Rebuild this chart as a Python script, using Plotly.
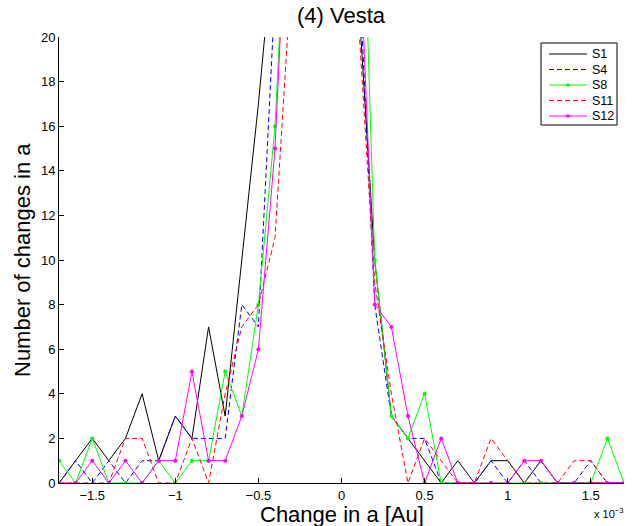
import plotly.graph_objects as go

# Bin centres of the change in semi-major axis, in units of 1e-3 AU
delta_a = [-1.7, -1.6, -1.5, -1.4, -1.3, -1.2, -1.1, -1.0, -0.9, -0.8,
           -0.7, -0.6, -0.5, -0.4, -0.3, -0.2, -0.1, 0.0, 0.1, 0.2,
           0.3, 0.4, 0.5, 0.6, 0.7, 0.8, 0.9, 1.0, 1.1, 1.2,
           1.3, 1.4, 1.5, 1.6, 1.7]

# Number of changes per bin for each simulation
s1 = [0, 1, 2, 1, 2, 4, 1, 3, 2, 7, 3, 10, 17, 25, 60, 140, 310, 320, 22, 10,
      3, 2, 1, 0, 1, 0, 1, 1, 0, 1, 0, 0, 0, 0, 0]
s4 = [0, 1, 0, 1, 0, 1, 1, 3, 2, 2, 2, 8, 7, 22, 45, 150, 300, 310, 24, 8,
      3, 2, 2, 0, 0, 0, 1, 0, 1, 0, 0, 0, 1, 0, 0]
s8 = [1, 0, 2, 0, 0, 0, 1, 0, 1, 1, 5, 3, 8, 16, 31, 130, 290, 300, 34, 10,
      3, 2, 4, 0, 0, 0, 0, 0, 0, 0, 0, 0, 0, 2, 0]
s11 = [0, 0, 0, 0, 2, 2, 0, 0, 2, 0, 4, 7, 8, 11, 23, 120, 280, 290, 21, 9,
       4, 0, 2, 1, 0, 0, 2, 1, 0, 0, 0, 1, 1, 0, 0]
s12 = [0, 0, 1, 0, 1, 0, 1, 1, 5, 1, 1, 3, 6, 15, 31, 125, 285, 295, 26, 8,
       7, 3, 0, 2, 0, 0, 0, 0, 1, 1, 0, 0, 0, 0, 0]

series_names = ["S1", "S4", "S8", "S11", "S12"]
series_counts = [s1, s4, s8, s11, s12]
series_colors = ["#000000", "#0000ff", "#00ff00", "#ff0000", "#ff00ff"]
series_dashes = ["solid", "5px,3px", "solid", "5px,3px", "solid"]
series_dots = [False, False, True, False, True]

W, H = 642, 526
ML, MR, MT, MB = 59, 18, 37, 43
PW, PH = W - ML - MR, H - MT - MB

def paper_x(px):
    return (px - ML) / PW

def paper_y(py):
    return (H - MB - py) / PH

fig = go.Figure()
for name, counts, color, dash, dots in zip(series_names, series_counts,
                                          series_colors, series_dashes,
                                          series_dots):
    fig.add_trace(go.Scatter(
        x=delta_a, y=counts, name=name,
        mode="lines+markers" if dots else "lines",
        line=dict(color=color, width=1, dash=dash),
        marker=dict(color=color, size=4, symbol="circle"),
        showlegend=False,
    ))

font_family = "Liberation Sans, Arial, Helvetica, sans-serif"

# Compact boxed legend in the upper-right corner
shapes = []
annotations = []
box_x0, box_x1, box_y0, box_y1 = 541, 617, 43, 125
shapes.append(dict(type="rect", xref="paper", yref="paper",
                   x0=paper_x(box_x0), x1=paper_x(box_x1),
                   y0=paper_y(box_y1), y1=paper_y(box_y0),
                   line=dict(color="black", width=1), fillcolor="white",
                   layer="above"))
row_step = 15.5
for i, (name, color, dash, dots) in enumerate(zip(series_names, series_colors,
                                                  series_dashes, series_dots)):
    cy = 54 + i * row_step
    shapes.append(dict(type="line", xref="paper", yref="paper",
                       x0=paper_x(549), x1=paper_x(587),
                       y0=paper_y(cy), y1=paper_y(cy),
                       line=dict(color=color, width=1, dash=dash),
                       layer="above"))
    if dots:
        shapes.append(dict(type="circle", xref="paper", yref="paper",
                           x0=paper_x(566.5), x1=paper_x(569.5),
                           y0=paper_y(cy + 1.5), y1=paper_y(cy - 1.5),
                           line=dict(color=color, width=0.5),
                           fillcolor=color, layer="above"))
    annotations.append(dict(text=name, xref="paper", yref="paper",
                            x=paper_x(590), y=paper_y(cy),
                            xanchor="left", yanchor="middle",
                            showarrow=False, font=dict(size=12.5)))

annotations += [
    dict(text="(4) Vesta", xref="paper", yref="paper", x=0.5, y=1,
         yshift=22, yanchor="middle", showarrow=False,
         font=dict(size=22)),
    dict(text="Change in a [Au]", xref="paper", yref="paper", x=0.5, y=0,
         yshift=-31, yanchor="middle", showarrow=False,
         font=dict(size=22)),
    dict(text="Number of changes in a", xref="paper", yref="paper",
         x=0, y=0.5, xshift=-37, xanchor="center", yanchor="middle",
         textangle=-90, showarrow=False, font=dict(size=22)),
    dict(text="x 10<sup>−3</sup>", xref="paper", yref="paper", x=1, y=0,
         yshift=-30, xshift=2, xanchor="right", yanchor="middle",
         showarrow=False, font=dict(size=11)),
]

fig.update_layout(
    width=W, height=H,
    margin=dict(l=ML, r=MR, t=MT, b=MB),
    plot_bgcolor="white", paper_bgcolor="white",
    font=dict(family=font_family, size=13, color="black"),
    showlegend=False,
    xaxis=dict(
        range=[-1.7, 1.7], tick0=0, dtick=0.5,
        ticks="inside", ticklen=5, tickcolor="black",
        showline=True, linecolor="black", linewidth=1,
        showgrid=False, zeroline=False,
        tickfont=dict(size=13),
    ),
    yaxis=dict(
        range=[0, 20], tick0=0, dtick=2,
        ticks="inside", ticklen=5, tickcolor="black",
        showline=True, linecolor="black", linewidth=1,
        showgrid=False, zeroline=False,
        tickfont=dict(size=13),
    ),
    shapes=shapes,
    annotations=annotations,
)

fig.write_html("out.html")
